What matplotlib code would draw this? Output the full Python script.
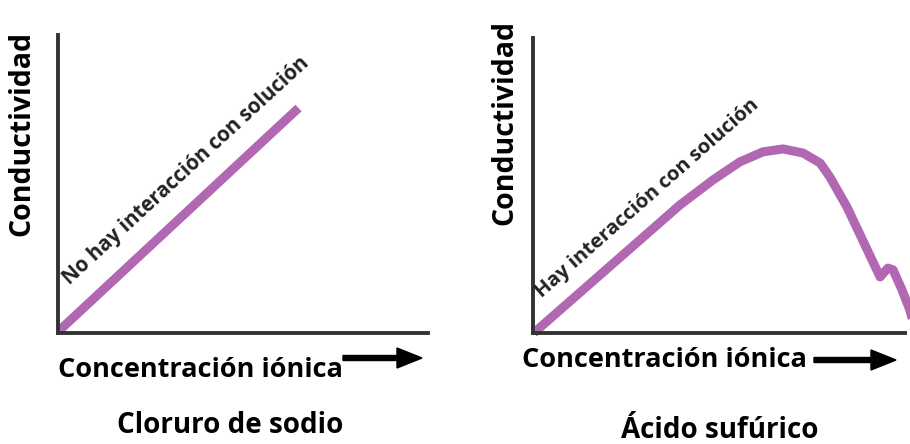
import numpy as np
import matplotlib.pyplot as plt
from matplotlib.patches import FancyArrow

# data (arbitrary units, both axes run 0-100)
nacl_x = [0.5, 65]
nacl_y = [1, 75.5]

h2so4_x = [1.1, 39.5, 48.4, 55.6, 61.8, 67.2, 72.6, 77.2, 79.8, 84.4, 93.3, 95.4, 96.8, 99.2, 101.3, 102.4]
h2so4_y = [1.0, 43.4, 51.9, 58.0, 61.4, 62.4, 61.0, 57.6, 52.9, 42.7, 19.0, 22.0, 21.4, 14.6, 7.8, 2.7]

titles = ["Cloruro de sodio", "Ácido sufúrico"]
notes = ["No hay interacción con solución", "Hay interacción con solución"]

W, H = 910, 444
fig = plt.figure(figsize=(W / 100, H / 100), dpi=100)
plt.rcParams['font.family'] = ['Open Sans', 'DejaVu Sans']

purple = '#b267b2'
axcol = '#333333'


def px(x, y):
    return x / W, 1 - y / H


def make_axes(x0, x1, ytop, ybot):
    l, b = px(x0, ybot)
    ax = fig.add_axes([l, b, (x1 - x0) / W, (ybot - ytop) / H])
    ax.set_xlim(0, 100)
    ax.set_ylim(0, 100)
    for s in ['top', 'right']:
        ax.spines[s].set_visible(False)
    for s in ['left', 'bottom']:
        ax.spines[s].set_color(axcol)
        ax.spines[s].set_linewidth(2.8)
    ax.set_xticks([])
    ax.set_yticks([])
    ax.patch.set_alpha(0)
    return ax


ax1 = make_axes(58, 428, 35, 333)
ax1.plot(nacl_x, nacl_y, color=purple, lw=6.5, solid_capstyle='butt', clip_on=False)

ax2 = make_axes(533, 905, 38, 333)
ax2.plot(h2so4_x, h2so4_y, color=purple, lw=6.5, solid_joinstyle='round', clip_on=False)

# rotated notes along the lines
fig.text(*px(70, 285), notes[0], rotation=42.6, rotation_mode='anchor',
         ha='left', va='baseline', fontsize=14.8, fontweight='bold', color='#222222')
fig.text(*px(542, 298), notes[1], rotation=41.4, rotation_mode='anchor',
         ha='left', va='baseline', fontsize=14.6, fontweight='bold', color='#222222')

# axis labels
fig.text(*px(22, 133), "Conductividad", rotation=90, ha='center', va='center',
         fontsize=20.5, fontweight='bold')
fig.text(*px(505, 122), "Conductividad", rotation=90, ha='center', va='center',
         fontsize=20.5, fontweight='bold')
fig.text(*px(58, 370), "Concentración iónica", ha='left', va='center',
         fontsize=19.5, fontweight='bold')
fig.text(*px(522, 360), "Concentración iónica", ha='left', va='center',
         fontsize=19.5, fontweight='bold')

# arrows
for xa, xb, ya in [(343, 422, 358), (814, 896, 360)]:
    fig.patches.append(FancyArrow(
        xa / W, 1 - ya / H, (xb - xa) / W, 0, width=5 / H, head_width=20 / H,
        head_length=25 / W, length_includes_head=True, color='black',
        transform=fig.transFigure, figure=fig))

# titles
fig.text(*px(230, 425), titles[0], ha='center', va='center', fontsize=20, fontweight='bold')
fig.text(*px(720, 430), titles[1], ha='center', va='center', fontsize=20, fontweight='bold')

fig.savefig('out.png', dpi=100)
